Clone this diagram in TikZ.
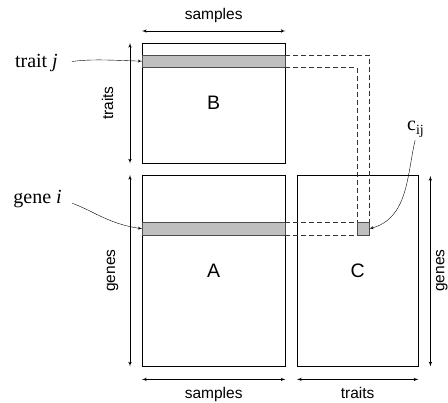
\documentclass[tikz,border=0pt]{standalone}
\usepackage{fontspec}
\setmainfont{Liberation Serif}
\setsansfont{Liberation Sans}
\usetikzlibrary{arrows,positioning}

\begin{document}
\begin{tikzpicture}[>=latex', x=1pt, y=-1pt]
        \tikzset{mat/.style={draw, rectangle, inner sep=0pt, anchor=north west, font=\sffamily\fontsize{19.5}{22}\selectfont},
        band/.style={draw=black!70, fill=black!25, rectangle, inner sep=0pt, anchor=north west},
        dim/.style={<->, line width=0.6pt},
        dimlbl/.style={font=\sffamily\fontsize{15.5}{17}\selectfont, anchor=base, inner sep=0pt},
        callout/.style={font=\fontsize{20}{22}\selectfont, inner sep=0pt},
        link/.style={draw=black!80, dashed, dash pattern=on 5pt off 3pt, line width=0.6pt},
        }
        \useasboundingbox (0,0) rectangle (448,403);
        %% matrices
        \node [mat, minimum width=143pt, minimum height=120pt] (B) at (142,43) {B};
        \node [mat, minimum width=143pt, minimum height=191pt] (A) at (142,175) {A};
        \node [mat, minimum width=121pt, minimum height=191pt] (C) at (297,175) {C};
        %% highlighted row, column and entry
        \node [band, minimum width=143pt, minimum height=12pt] (Bj) at (142,55) {};
        \node [band, minimum width=143pt, minimum height=13pt] (Ai) at (142,222) {};
        \node [band, minimum width=12pt, minimum height=13pt] (cij) at (357,222) {};

%% dashed guides
        \path[link] (Bj.north east) -| (cij.north east)
                    (Bj.south east) -| (cij.north west)
                    (Ai.north east) -- (cij.north west)
                    (Ai.south east) -- (cij.south west);

%% dimensions
        \draw[dim] ([yshift=12pt]B.north west) -- ([yshift=12pt]B.north east);
        \node [dimlbl] (Bsamples) at ([yshift=23pt]B.north) {samples};
        \draw[dim] ([xshift=-12pt]B.north west) -- ([xshift=-12pt]B.south west);
        \node [dimlbl, rotate=90] (Btraits) at ([xshift=-29pt]B.west) {traits};
        \draw[dim] ([xshift=-12pt]A.north west) -- ([xshift=-12pt]A.south west);
        \node [dimlbl, rotate=90] (Agenes) at ([xshift=-27pt]A.west) {genes};
        \draw[dim] ([yshift=-13pt]A.south west) -- ([yshift=-13pt]A.south east);
        \node [dimlbl] (Asamples) at ([yshift=-32pt]A.south) {samples};
        \draw[dim] ([yshift=-13pt]C.south west) -- ([yshift=-13pt]C.south east);
        \node [dimlbl] (Ctraits) at ([yshift=-32pt]C.south) {traits};
        \draw[dim] ([xshift=12pt,yshift=-1pt]C.north east) -- ([xshift=12pt]C.south east);
        \node [dimlbl, rotate=90] (Cgenes) at ([xshift=26pt]C.east) {genes};

%% callouts
        \node [callout, anchor=base east] (traitj) at (58,68) {trait \textit{j}};
        \node [callout, anchor=base east] (genei) at (62,204) {gene \textit{i}};
        \node [callout, anchor=base west] (cl) at (407,131) {c\textsubscript{ij}};
        \draw[->, shorten <=14pt] (traitj.east) to[out=8, in=178] (Bj.west);
        \draw[->, shorten <=11pt] (genei.east) to[out=-20, in=172] (Ai.west);
        \draw[->, shorten <=3pt] (cl.south) to[out=-103, in=15] (cij.east);
\end{tikzpicture}
\end{document}
